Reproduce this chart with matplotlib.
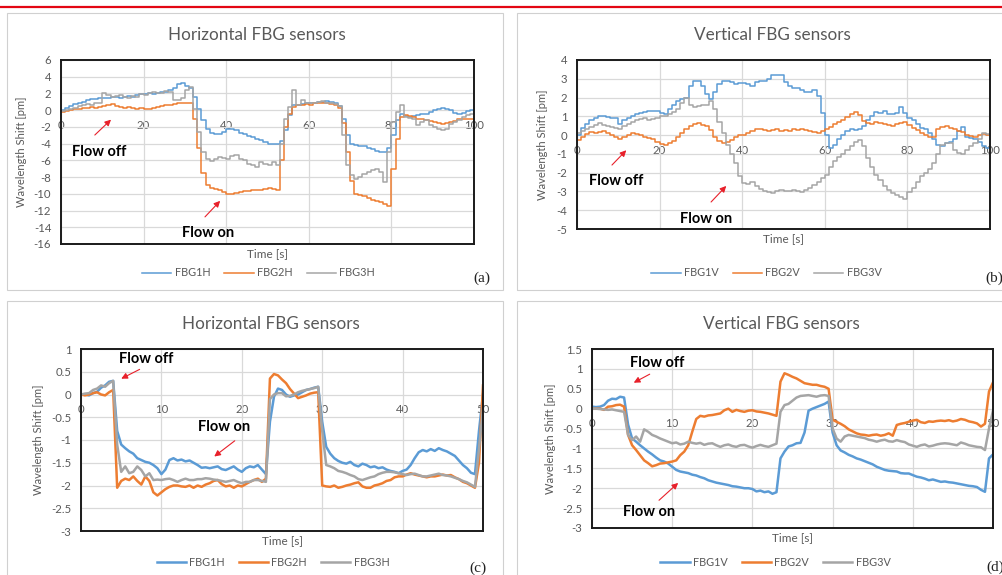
import numpy as np
import matplotlib.pyplot as plt
from matplotlib.patches import Rectangle
from matplotlib.lines import Line2D
from matplotlib.ticker import FuncFormatter, MultipleLocator

plt.rcParams['font.family'] = ['Lato', 'DejaVu Sans']
plt.rcParams['axes.unicode_minus'] = False

W, H = 1002, 575
BLUE, ORANGE, GRAY = '#5b9bd5', '#ed7d31', '#a5a5a5'
TXT = '#595959'

# time axes [s]
t_ab = np.arange(0, 101)
t_cd = np.arange(0, 50.5, 0.5)

# (a) horizontal sensors, 100 s run
fbg1h_a = [0.0, 0.3, 0.5, 0.7, 0.9, 1.0, 1.2, 1.3, 1.3, 1.4,
           1.5, 1.4, 1.6, 1.6, 1.5, 1.6, 1.7, 1.6, 1.8, 1.9,
           1.9, 2.0, 1.9, 2.1, 2.2, 2.2, 2.4, 2.7, 3.1, 3.2,
           2.9, 2.6, 1.6, 0.2, -1.2, -2.3, -2.7, -2.8, -2.8, -2.6,
           -2.3, -2.2, -2.4, -2.7, -2.9, -3.1, -3.2, -3.4, -3.6, -3.8,
           -4.0, -4.1, -4.0, -3.7, -2.4, -0.6, 0.6, 0.6, 0.7, 0.8,
           0.8, 0.9, 1.0, 1.0, 1.1, 1.0, 0.8, 0.5, -1.0, -3.0,
           -4.0, -4.2, -4.3, -4.3, -4.5, -4.7, -4.9, -5.0, -5.0, -4.5,
           -3.0, -1.2, -0.4, -0.7, -0.8, -0.7, -0.6, -0.5, -0.4, -0.2,
           0.0, 0.2, 0.3, 0.1, 0.0, -0.3, -0.4, -0.3, -0.1, 0.0,
           0.0]
fbg2h_a = [-0.2, -0.1, 0.0, 0.1, 0.2, 0.3, 0.3, 0.4, 0.3, 0.4,
           0.5, 0.6, 0.7, 0.5, 0.4, 0.3, 0.4, 0.3, 0.2, 0.3,
           0.2, 0.2, 0.3, 0.4, 0.5, 0.6, 0.6, 0.7, 0.8, 0.9,
           0.9, 0.9, -1.0, -4.5, -7.5, -9.0, -9.3, -9.4, -9.6, -9.8,
           -10.0, -10.0, -9.9, -9.8, -9.7, -9.7, -9.6, -9.5, -9.5, -9.4,
           -9.3, -9.4, -9.5, -6.0, -2.0, -0.4, 0.4, 0.6, 0.6, 0.7,
           0.6, 0.8, 0.9, 0.9, 0.8, 0.7, 0.6, 0.3, -1.5, -5.0,
           -8.5, -10.0, -10.2, -10.3, -10.5, -10.7, -10.9, -11.0, -11.2, -11.4,
           -7.0, -3.5, -0.8, -0.6, -0.7, -0.8, -1.0, -1.1, -1.2, -1.3,
           -1.4, -1.5, -1.6, -1.5, -1.4, -1.3, -1.1, -1.0, -1.0, -1.1,
           -1.2]
fbg3h_a = [-0.1, 0.0, 0.2, 0.3, 0.5, 0.6, 0.7, 0.6, 0.8, 0.8,
           2.0, 1.8, 1.6, 1.7, 1.8, 1.6, 1.5, 1.7, 1.6, 1.9,
           1.8, 2.0, 2.2, 2.0, 2.1, 2.3, 2.2, 1.2, 1.2, 1.4,
           2.4, 2.8, 0.2, -2.6, -5.0, -5.8, -6.1, -5.8, -5.6, -5.7,
           -5.8, -5.5, -5.4, -5.8, -6.0, -6.4, -6.6, -6.8, -6.2, -6.4,
           -6.6, -6.2, -6.6, -4.0, -1.0, 0.4, 2.4, 0.6, 1.2, 0.8,
           0.9, 0.8, 1.0, 1.1, 0.9, 0.8, 0.7, 0.5, -3.0, -6.6,
           -7.8, -8.2, -8.0, -7.6, -7.4, -7.2, -7.0, -7.4, -8.6, -5.0,
           -1.4, -0.2, 0.6, -0.8, -0.9, -1.0, -1.8, -1.4, -1.2, -1.8,
           -2.0, -2.2, -2.4, -2.2, -1.6, -1.4, -1.2, -0.8, -0.6, -0.4,
           -0.2]

# (b) vertical sensors, 100 s run
fbg1v_b = [0.0, 0.4, 0.6, 0.8, 0.9, 1.0, 1.0, 0.95, 0.9, 0.9,
           0.6, 0.8, 0.9, 1.0, 1.1, 1.2, 1.25, 1.3, 1.3, 1.3,
           1.2, 1.15, 1.4, 1.6, 1.8, 1.9, 2.0, 2.6, 2.9, 2.9,
           2.6, 2.2, 1.9, 2.3, 2.7, 2.9, 2.9, 2.85, 2.7, 2.8,
           2.75, 2.7, 2.6, 2.85, 2.9, 2.9, 3.0, 3.2, 3.2, 3.2,
           2.85, 2.6, 2.5, 2.5, 2.4, 2.3, 2.3, 2.4, 2.1, 1.2,
           0.0, -0.7, -0.5, -0.2, 0.0, 0.2, 0.3, 0.25, 0.35, 0.5,
           0.8, 1.0, 1.25, 1.2, 1.3, 1.15, 1.15, 1.2, 1.5, 1.2,
           0.9, 0.8, 0.6, 0.4, 0.3, 0.1, -0.2, -0.5, -0.6, -0.4,
           -0.35, -0.2, 0.2, 0.45, -0.1, -0.15, -0.2, -0.35, -0.6, -0.7,
           -0.45]
fbg2v_b = [-0.25, -0.1, 0.05, 0.15, 0.1, 0.15, 0.2, 0.1, 0.0, -0.1,
           -0.2, -0.1, 0.0, 0.1, 0.05, 0.0, -0.1, -0.15, -0.2, -0.35,
           -0.45, -0.55, -0.4, -0.3, -0.1, 0.1, 0.3, 0.5, 0.6, 0.65,
           0.55, 0.5, 0.25, -0.1, -0.3, -0.4, -0.35, -0.25, -0.1, 0.0,
           0.0, 0.1, 0.2, 0.35, 0.3, 0.25, 0.2, 0.25, 0.3, 0.2,
           0.25, 0.2, 0.3, 0.25, 0.3, 0.25, 0.2, 0.15, 0.1, 0.2,
           0.3, 0.45, 0.6, 0.7, 0.8, 0.95, 1.1, 1.25, 1.05, 0.75,
           0.65, 0.6, 0.7, 0.65, 0.6, 0.55, 0.5, 0.6, 0.65, 0.7,
           0.55, 0.4, 0.25, 0.1, 0.0, -0.1, -0.1, 0.3, 0.45, 0.5,
           0.4, 0.3, 0.2, 0.15, 0.0, -0.05, -0.1, 0.0, 0.05, 0.0,
           0.0]
fbg3v_b = [0.1, 0.2, 0.35, 0.45, 0.55, 0.65, 0.55, 0.5, 0.45, 0.4,
           0.35, 0.5, 0.6, 0.7, 0.8, 0.85, 0.9, 0.8, 0.85, 0.9,
           1.0, 1.0, 1.1, 1.25, 1.4, 1.7, 1.95, 1.6, 1.5, 1.55,
           1.6, 1.6, 1.8, 1.4, 0.7, 0.1, -0.5, -1.0, -1.5, -2.2,
           -2.55, -2.6, -2.5, -2.7, -2.85, -2.95, -3.05, -3.1, -3.0, -2.9,
           -3.0, -3.0, -2.9, -3.0, -3.05, -2.9, -2.8, -2.65, -2.5, -2.3,
           -2.1, -1.7, -1.4, -1.15, -1.0, -0.8, -0.6, -0.35, -0.25, -0.6,
           -1.2, -1.7, -2.1, -2.4, -2.7, -2.9, -3.1, -3.2, -3.3, -3.4,
           -3.05, -2.8, -2.5, -2.2, -2.0, -1.8, -1.5, -1.0, -0.55, -0.4,
           -0.4, -0.8, -0.95, -1.0, -0.8, -0.6, -0.4, -0.2, 0.1, 0.05,
           0.0]

# (c) horizontal sensors, 50 s run
fbg1h_c = [0.0, 0.0, -0.02, 0.03, 0.06, 0.15, 0.2, 0.28, 0.3, -0.8,
           -1.1, -1.18, -1.25, -1.3, -1.4, -1.44, -1.48, -1.5, -1.55, -1.62,
           -1.75, -1.65, -1.44, -1.4, -1.45, -1.43, -1.47, -1.45, -1.5, -1.55,
           -1.61, -1.6, -1.62, -1.6, -1.58, -1.64, -1.66, -1.62, -1.58, -1.65,
           -1.7, -1.62, -1.58, -1.6, -1.55, -1.65, -1.75, -0.6, -0.05, 0.13,
           0.1, 0.0, -0.05, -0.02, 0.0, 0.05, 0.1, 0.12, 0.15, 0.17,
           -0.6, -1.15, -1.3, -1.4, -1.46, -1.5, -1.52, -1.48, -1.55, -1.58,
           -1.52, -1.55, -1.6, -1.58, -1.62, -1.6, -1.65, -1.68, -1.7, -1.73,
           -1.68, -1.65, -1.55, -1.4, -1.27, -1.22, -1.25, -1.2, -1.24, -1.18,
           -1.22, -1.25, -1.3, -1.35, -1.45, -1.55, -1.62, -1.72, -1.75, -0.8,
           0.0]
fbg2h_c = [0.0, -0.02, 0.0, 0.03, 0.05, 0.0, -0.02, 0.05, 0.1, -2.05,
           -1.9, -1.85, -1.88, -1.8, -1.9, -1.98, -1.8, -1.9, -2.15, -2.22,
           -2.15, -2.08, -2.03, -2.0, -2.0, -2.02, -2.03, -2.0, -2.05, -2.0,
           -2.03, -1.98, -1.95, -1.9, -1.88, -1.97, -2.02, -2.0, -2.05, -2.0,
           -2.02, -1.97, -1.92, -1.88, -1.85, -1.92, -1.85, 0.35, 0.45, 0.42,
           0.33, 0.25, 0.12, 0.02, -0.08, -0.05, -0.02, 0.02, 0.04, 0.05,
           -2.0, -2.02, -2.03, -2.0, -2.05, -2.03, -2.0, -1.98, -1.95, -1.93,
           -2.02, -2.05, -2.05, -2.0, -1.98, -1.95, -1.9, -1.88, -1.82, -1.8,
           -1.8, -1.76, -1.73, -1.76, -1.78, -1.8, -1.82, -1.8, -1.8, -1.78,
           -1.76, -1.78, -1.77, -1.82, -1.86, -1.92, -1.95, -2.0, -2.05, -1.5,
           0.2]
fbg3h_c = [0.0, 0.02, 0.03, 0.1, 0.13, 0.2, 0.17, 0.25, 0.3, -1.1,
           -1.7, -1.58, -1.73, -1.7, -1.58, -1.66, -1.8, -1.73, -1.88, -1.87,
           -1.88, -1.86, -1.85, -1.88, -1.92, -1.88, -1.85, -1.88, -1.88, -1.86,
           -1.86, -1.84, -1.85, -1.87, -1.88, -1.9, -1.92, -1.9, -1.88, -1.92,
           -1.95, -1.92, -1.92, -1.88, -1.88, -1.9, -1.92, -0.1, 0.0, 0.03,
           0.03, -0.04, -0.03, 0.0, 0.05, 0.08, 0.1, 0.12, 0.14, 0.17,
           -0.8, -1.55, -1.58, -1.62, -1.68, -1.7, -1.73, -1.77, -1.8, -1.86,
           -1.88, -1.85, -1.82, -1.8, -1.75, -1.72, -1.7, -1.7, -1.71, -1.73,
           -1.75, -1.77, -1.75, -1.74, -1.77, -1.8, -1.8, -1.78, -1.76, -1.74,
           -1.77, -1.78, -1.8, -1.83, -1.86, -1.9, -1.93, -1.98, -2.03, -1.2,
           -0.3]

# (d) vertical sensors, 50 s run
fbg1v_d = [0.05, 0.04, 0.05, 0.09, 0.2, 0.25, 0.24, 0.3, 0.28, -0.4,
           -0.75, -0.83, -0.92, -1.0, -1.08, -1.15, -1.23, -1.3, -1.33, -1.38,
           -1.46, -1.54, -1.58, -1.6, -1.62, -1.66, -1.68, -1.72, -1.75, -1.8,
           -1.83, -1.86, -1.88, -1.9, -1.92, -1.95, -1.96, -1.98, -2.0, -2.0,
           -2.02, -2.08, -2.06, -2.1, -2.08, -2.14, -2.1, -1.25, -1.08, -0.95,
           -0.92, -0.87, -0.86, -0.6, -0.05, 0.0, 0.04, 0.08, 0.12, 0.18,
           -0.6, -0.92, -1.05, -1.1, -1.16, -1.2, -1.25, -1.28, -1.32, -1.36,
           -1.4, -1.46, -1.5, -1.54, -1.56, -1.57, -1.58, -1.62, -1.63, -1.63,
           -1.67, -1.71, -1.73, -1.76, -1.8, -1.78, -1.81, -1.84, -1.83, -1.85,
           -1.86, -1.88, -1.9, -1.92, -1.94, -1.95, -1.97, -2.04, -2.09, -1.25,
           -1.15]
fbg2v_d = [0.0, 0.0, 0.0, -0.03, 0.05, 0.06, 0.09, 0.1, 0.05, -0.66,
           -0.92, -1.04, -1.17, -1.3, -1.37, -1.45, -1.42, -1.38, -1.37, -1.35,
           -1.33, -1.3, -1.17, -1.08, -0.92, -0.58, -0.26, -0.18, -0.2, -0.17,
           -0.16, -0.14, -0.12, -0.04, 0.0, -0.08, -0.03, -0.06, -0.08, -0.05,
           -0.04, -0.07, -0.08, -0.1, -0.12, -0.15, -0.18, 0.68, 0.89, 0.85,
           0.8, 0.76, 0.7, 0.64, 0.62, 0.6, 0.6, 0.57, 0.55, 0.5,
           -0.28, -0.33, -0.38, -0.44, -0.52, -0.57, -0.62, -0.65, -0.66, -0.68,
           -0.66, -0.65, -0.68, -0.66, -0.62, -0.68, -0.41, -0.38, -0.36, -0.33,
           -0.3, -0.28, -0.34, -0.36, -0.32, -0.33, -0.31, -0.3, -0.31, -0.29,
           -0.32, -0.3, -0.26, -0.28, -0.32, -0.34, -0.37, -0.45, -0.38, 0.43,
           0.66]
fbg3v_d = [0.0, 0.0, -0.01, -0.02, -0.03, -0.02, -0.04, -0.06, -0.08, -0.66,
           -0.79, -0.7, -0.83, -0.52, -0.58, -0.66, -0.7, -0.75, -0.79, -0.83,
           -0.87, -0.85, -0.9, -0.88, -0.83, -0.86, -0.88, -0.86, -0.91, -0.88,
           -0.87, -0.92, -0.96, -0.92, -0.9, -0.94, -0.96, -0.92, -0.91, -0.95,
           -0.98, -0.94, -0.91, -0.94, -0.96, -0.92, -0.88, -0.08, 0.09, 0.12,
           0.2, 0.28, 0.32, 0.33, 0.34, 0.32, 0.3, 0.33, 0.34, 0.32,
           -0.5, -0.75, -0.83, -0.7, -0.66, -0.68, -0.7, -0.72, -0.74, -0.78,
           -0.8, -0.83, -0.8, -0.78, -0.82, -0.83, -0.79, -0.82, -0.84, -0.9,
           -0.93, -0.96, -0.92, -0.9, -0.95, -0.93, -0.9, -0.88, -0.87, -0.88,
           -0.9, -0.92, -0.85, -0.88, -0.92, -0.94, -0.96, -0.97, -1.04, -0.5,
           -0.05]

labels_h = ['FBG1H', 'FBG2H', 'FBG3H']
labels_v = ['FBG1V', 'FBG2V', 'FBG3V']


def fx(x):
    return x / W


def fy(y):
    return 1 - y / H


fig = plt.figure(figsize=(W / 100, H / 100), dpi=100)
fig.patch.set_facecolor('white')

# red rule on top + light frames round each chart
fig.add_artist(Line2D([0, 1], [fy(7), fy(7)], color='#e30613', lw=1.6,
                      transform=fig.transFigure))
for (x0, y0, x1, y1) in [(7, 13, 503, 290), (517, 13, 1010, 290),
                         (7, 301, 503, 590), (517, 301, 1010, 590)]:
    fig.add_artist(Rectangle((fx(x0), fy(y1)), fx(x1 - x0), (y1 - y0) / H,
                             transform=fig.transFigure, fill=False,
                             ec='#d0d0d0', lw=0.8))


def panel(box, series, labels, t, ylim, ystep, xlim, xstep, title, tag,
          ylab_x, lw, steps, notes):
    left, top, right, bottom = box
    ax = fig.add_axes([fx(left), fy(bottom), fx(right - left), (bottom - top) / H])
    colors = [BLUE, ORANGE, GRAY]
    for ys, lab, c in zip(series, labels, colors):
        ax.plot(t, ys, color=c, lw=lw, label=lab,
                drawstyle='steps-post' if steps else 'default')
    ax.set_xlim(*xlim)
    ax.set_ylim(*ylim)
    ax.yaxis.set_major_locator(MultipleLocator(ystep))
    ax.xaxis.set_major_locator(MultipleLocator(xstep))
    ax.yaxis.set_major_formatter(FuncFormatter(lambda v, p: f'{v:g}'))
    ax.grid(True, color='#d9d9d9', lw=0.9)
    ax.set_axisbelow(True)
    ax.tick_params(axis='y', length=0, pad=7, labelsize=8.2, labelcolor=TXT)
    ax.tick_params(axis='x', length=0, labelbottom=False)
    for s in ax.spines.values():
        s.set_color('#1a1a1a')
        s.set_linewidth(1.4)

    # x labels sit on the zero line, as in the spreadsheet chart
    frac = (0 - ylim[0]) / (ylim[1] - ylim[0])
    sec = ax.secondary_xaxis(frac)
    sec.set_alignment('bottom')
    sec.set_xticks(np.arange(xlim[0], xlim[1] + xstep / 2, xstep))
    sec.tick_params(length=0, pad=7, labelsize=8.2, labelcolor=TXT)
    for s in sec.spines.values():
        s.set_visible(False)

    cx = (left + right) / 2
    fig.text(fx(cx - 11), fy(top - 25), title, ha='center', va='center',
             fontsize=12.3, color=TXT)
    fig.text(fx(ylab_x), fy((top + bottom) / 2),
             'Wavelength Shift [pm]', rotation=90, ha='center', va='center',
             fontsize=8, color=TXT)
    fig.text(fx(cx), fy(bottom + 10), 'Time [s]', ha='center', va='center',
             fontsize=8.5, color=TXT)
    leg_y = 273 if top < 200 else 562
    fig.legend(*ax.get_legend_handles_labels(), loc='center',
               bbox_to_anchor=(fx(cx - 9 if left < 500 else cx - 17), fy(leg_y)),
               ncol=3, frameon=False, fontsize=7.8, handlelength=2.7,
               handletextpad=0.3, columnspacing=1.3, labelcolor=TXT)
    fig.text(fx(tag[1]), fy(tag[2]), tag[0], ha='center', va='center',
             fontsize=11, family='Liberation Serif', color='#222222')

    for text, xy, xytext, arrow_from in notes:
        ax.text(xytext[0], xytext[1], text, ha='center', va='center',
                fontsize=10.5, fontweight='bold', color='black')
        ax.annotate('', xy=xy, xytext=arrow_from,
                    arrowprops=dict(arrowstyle='-|>', color='#e8202a', lw=0.8,
                                    mutation_scale=9))
    return ax


panel((61, 60, 474, 244), [fbg1h_a, fbg2h_a, fbg3h_a], labels_h, t_ab,
      (-16, 6), 2, (0, 100), 20, 'Horizontal FBG sensors', ('(a)', 482, 278),
      22, 1.1, True,
      [('Flow off', (12.6, -0.9), (9.2, -5.0), (7.7, -3.2)),
       ('Flow on', (39.0, -10.6), (35.6, -14.7), (34.4, -13.0))])

panel((577, 60, 990, 229), [fbg1v_b, fbg2v_b, fbg3v_b], labels_v, t_ab,
      (-5, 4), 1, (0, 100), 20, 'Vertical FBG sensors', ('(b)', 994, 278),
      543, 1.1, True,
      [('Flow off', (12.4, -0.7), (9.4, -2.44), (8.0, -1.7)),
       ('Flow on', (36.6, -2.6), (31.2, -4.48), (32.0, -3.67))])

panel((81, 349, 483, 531), [fbg1h_c, fbg2h_c, fbg3h_c], labels_h, t_cd,
      (-3, 1), 0.5, (0, 50), 10, 'Horizontal FBG sensors', ('(c)', 478, 568),
      38, 1.8, False,
      [('Flow off', (4.7, 0.32), (8.1, 0.78), (7.6, 0.58)),
       ('Flow on', (16.3, -1.4), (17.8, -0.71), (19.4, -0.98))])

panel((592, 349, 993, 528), [fbg1v_d, fbg2v_d, fbg3v_d], labels_v, t_cd,
      (-3, 1.5), 0.5, (0, 50), 10, 'Vertical FBG sensors', ('(d)', 995, 567),
      550, 1.8, False,
      [('Flow off', (4.9, 0.62), (8.1, 1.15), (7.5, 0.9)),
       ('Flow on', (11.0, -1.82), (7.1, -2.6), (8.1, -2.35))])

fig.savefig('out.png', dpi=100)
